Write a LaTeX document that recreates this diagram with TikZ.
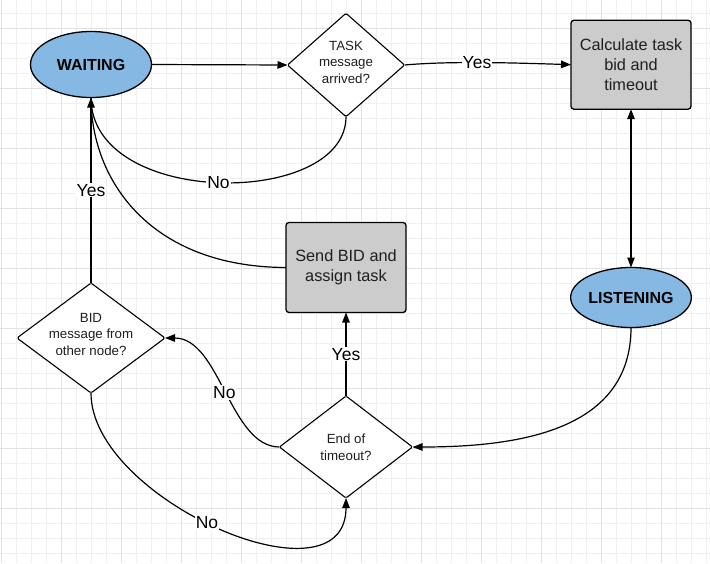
\documentclass[tikz,border=0pt]{standalone}
\usepackage{fontspec}
\setmainfont{Liberation Sans}
\usetikzlibrary{shapes.geometric,arrows.meta}
\definecolor{gridminor}{HTML}{EFEFEF}
\definecolor{gridmajor}{HTML}{E2E2E2}
\definecolor{stateblue}{HTML}{85B9E3}
\definecolor{boxgray}{HTML}{CCCCCC}
\tikzset{
  statenode/.style={ellipse, draw=black, line width=1.3pt, fill=stateblue, inner sep=0pt, outer sep=0pt,
    font=\fontsize{16}{19}\selectfont\bfseries},
  procbox/.style={rectangle, rounded corners=3pt, draw=black, line width=1.3pt, fill=boxgray, inner sep=0pt, outer sep=0pt,
    minimum width=120pt, minimum height=89pt, align=center, font=\fontsize{16.3}{20}\selectfont, text=black!88},
  decision/.style={diamond, draw=black, line width=1.1pt, fill=white, inner sep=0pt, outer sep=0pt, rounded corners=1.5pt},
  dtext/.style={align=center, inner sep=0pt, font=\fontsize{13.3}{16.5}\selectfont, text=black!88},
  conn/.style={line width=1.2pt, draw=black},
  arr/.style={-{Triangle[length=10pt,width=7.5pt]}},
  darr/.style={{Triangle[length=10pt,width=7.5pt]}-{Triangle[length=10pt,width=7.5pt]}},
  elabel/.style={fill=white, inner sep=1pt, font=\fontsize{17.5}{20}\selectfont, text=black}
}
\begin{document}
\begin{tikzpicture}[x=1pt, y=-1pt]
\useasboundingbox (0,0) rectangle (710,563);
\fill[white] (0,0) rectangle (710,563);
% grid
\foreach \k in {0,...,47} {\draw[gridminor, line width=1pt] ({1.7+15*\k},0) -- ({1.7+15*\k},563);}
\foreach \k in {0,...,36} {\draw[gridminor, line width=1pt] (0,{13.3+15*\k}) -- (710,{13.3+15*\k});}
\foreach \k in {0,...,11} {\draw[gridmajor, line width=1pt] ({1.7+60*\k},0) -- ({1.7+60*\k},563);}
\foreach \k in {0,...,9} {\draw[gridmajor, line width=1pt] (0,{28.3+60*\k}) -- (710,{28.3+60*\k});}

% nodes
\node[statenode, minimum width=121pt, minimum height=66pt] (waiting) at (91,64.5) {WAITING};
\node[statenode, minimum width=120pt, minimum height=60pt] (listening) at (631,297.5) {LISTENING};
\node[procbox] (calc) at (631,64.7) {Calculate task\\bid and\\timeout};
\node[procbox, minimum height=90pt] (send) at (346,267.5) {Send BID and\\assign task};
\node[decision, minimum width=117pt, minimum height=103.4pt] (task) at (346,65) {};
\node[dtext, yshift=3pt] (tasktext) at (task) {TASK\\message\\arrived?};
\node[decision, minimum width=148pt, minimum height=110pt] (bid) at (91,338) {};
\node[dtext, yshift=4pt] (bidtext) at (bid) {BID\\message from\\other node?};
\node[decision, minimum width=133pt, minimum height=102pt] (endt) at (346,447) {};
\node[dtext] (endtext) at (endt) {End of\\timeout?};

% connectors
\draw[conn, arr] (waiting.east) -- (task.west);
\draw[conn, arr] (task.east) .. controls +(45,-4) and +(-60,-2) .. node[elabel, pos=0.47] {Yes} (calc.west);
\draw[conn, darr] (calc.south) -- (listening.north);
\draw[conn] (task.south) .. controls (346,208) and (91,208) .. node[elabel, pos=0.5] {No} (waiting.south);
\draw[conn] (send.west) .. controls (150,267) and (91,180) .. (waiting.south);
\draw[conn, arr] (bid.north) -- node[elabel, pos=0.5] {Yes} (waiting.south);
\draw[conn, arr] (endt.north) -- node[elabel, pos=0.5] {Yes} (send.south);
\draw[conn, arr] (endt.west) .. controls (230,447) and (220,338) .. node[elabel, pos=0.5] {No} (bid.east);
\draw[conn, arr] (bid.south) .. controls (91,500) and (346,610) .. node[elabel, pos=0.47] {No} (endt.south);
\draw[conn, arr] (listening.south) .. controls (631,430) and (520,447) .. (endt.east);
\end{tikzpicture}
\end{document}
